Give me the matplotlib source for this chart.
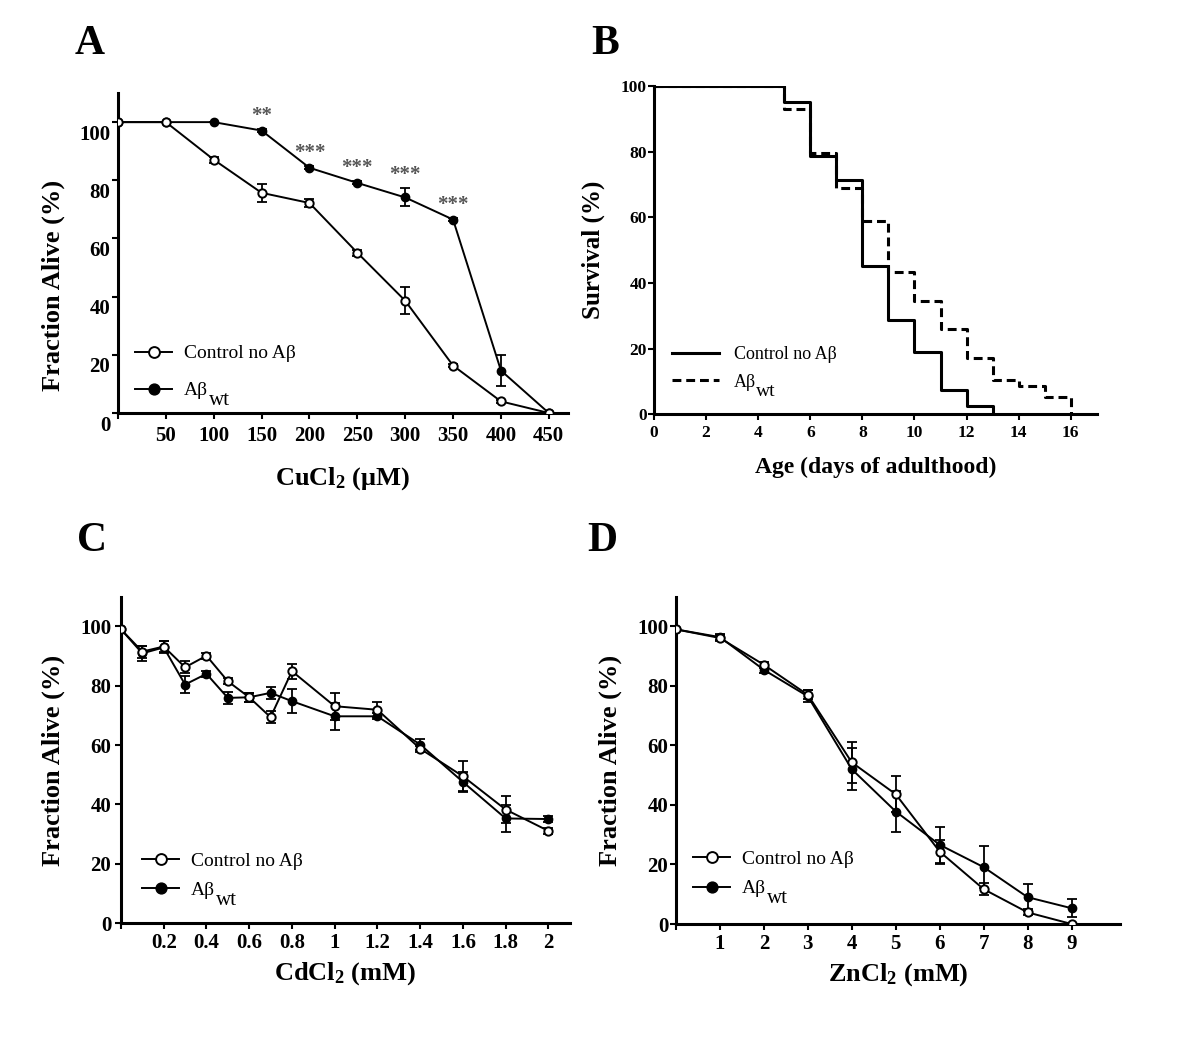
import numpy as np
import matplotlib
matplotlib.use("Agg")
import matplotlib.pyplot as plt
import matplotlib.transforms as mtransforms

plt.rcParams['font.family'] = ['Liberation Serif', 'DejaVu Serif']
plt.rcParams['mathtext.fontset'] = 'custom'
plt.rcParams['mathtext.rm'] = 'Liberation Serif'
plt.rcParams['mathtext.bf'] = 'Liberation Serif:bold'
plt.rcParams['mathtext.it'] = 'Liberation Serif:italic'

# ---- Panel A: CuCl2 ----
cu_conc = [0, 50, 100, 150, 200, 250, 300, 350, 400, 450]
cu_ctrl = [100, 100, 87.1, 75.7, 72.2, 55.1, 38.6, 16.3, 4.0, 0]
cu_ctrl_err = [0, 0, 1.0, 3.1, 1.5, 1.0, 4.6, 0.5, 0.5, 0]
cu_abwt = [100, 100, 100, 97.1, 84.3, 79.1, 74.1, 66.5, 14.6, 0]
cu_abwt_err = [0, 0, 0, 0.5, 0.5, 0.5, 3.1, 0.5, 5.4, 0]
star_conc = [150, 200, 250, 300, 350]
star_text = ['**', '***', '***', '***', '***']

# ---- Panel B: survival ----
days = [0, 5, 6, 7, 8, 9, 10, 11, 12, 13, 14, 15, 16]
surv_ctrl = [100, 95.0, 78.7, 71.4, 45.0, 28.8, 19.0, 7.5, 2.5, 0]
surv_abwt = [100, 93.0, 79.5, 69.0, 58.7, 43.2, 34.5, 25.9, 17.2, 10.3, 8.6, 5.2, 0]

# ---- Panel C: CdCl2 ----
cd_conc = [0, 0.1, 0.2, 0.3, 0.4, 0.5, 0.6, 0.7, 0.8, 1.0, 1.2, 1.4, 1.6, 1.8, 2.0]
cd_ctrl = [99, 91.5, 93.2, 86.2, 90.1, 81.5, 76.1, 69.4, 84.9, 73.1, 71.9, 58.8, 49.5, 38.3, 31.1]
cd_ctrl_err = [0, 2.0, 2.0, 2.0, 1.0, 1.0, 1.5, 2.0, 2.5, 4.5, 2.5, 1.0, 5.0, 4.5, 1.0]
cd_abwt = [99, 90.9, 92.9, 80.4, 84.0, 75.9, 76.1, 77.6, 74.8, 69.7, 69.7, 60.2, 47.6, 35.3, 35.1]
cd_abwt_err = [0, 2.5, 2.0, 3.0, 1.0, 2.0, 1.5, 2.0, 4.0, 4.5, 1.0, 2.0, 3.5, 4.5, 1.0]

# ---- Panel D: ZnCl2 ----
zn_conc = [0, 1, 2, 3, 4, 5, 6, 7, 8, 9]
zn_ctrl = [99, 96.1, 87.1, 77.0, 54.3, 43.6, 24.3, 11.7, 3.9, 0]
zn_ctrl_err = [0, 1.0, 1.0, 1.5, 7.0, 6.0, 4.0, 2.0, 1.0, 0]
zn_abwt = [99, 96.4, 85.4, 76.5, 52.0, 37.8, 26.6, 19.1, 9.0, 5.3]
zn_abwt_err = [0, 1.0, 1.0, 2.0, 7.0, 7.0, 6.0, 7.0, 4.5, 3.0]

LBL_CTRL = 'Control no A\u03b2'
LBL_AB = 'A\u03b2'
LBL_AB_SUB = 'wt'

fig = plt.figure(figsize=(12, 10.56), dpi=100)
axA = fig.add_axes([0.0983, 0.6089, 0.375, 0.303])
axB = fig.add_axes([0.545, 0.6077, 0.369, 0.311])
axC = fig.add_axes([0.1008, 0.1257, 0.374, 0.3093])
axD = fig.add_axes([0.5633, 0.125, 0.370, 0.310])


def style_axes(ax, tick_size, ypad=2, xpad=5):
    for side in ['top', 'right']:
        ax.spines[side].set_visible(False)
    for side in ['left', 'bottom']:
        ax.spines[side].set_linewidth(2.2)
    ax.tick_params(direction='out', length=4, width=1.5, labelsize=tick_size)
    ax.tick_params(axis='y', pad=ypad)
    ax.tick_params(axis='x', pad=xpad)
    for lbl in ax.get_xticklabels() + ax.get_yticklabels():
        lbl.set_fontweight('bold')


def dose_curves(ax, x, ctrl, ctrl_err, ab, ab_err, ms=6):
    ax.errorbar(x, ab, yerr=ab_err, fmt='none', ecolor='black', elinewidth=1.3,
                capsize=3.5, capthick=1.3, zorder=2)
    ax.errorbar(x, ctrl, yerr=ctrl_err, fmt='none', ecolor='black', elinewidth=1.3,
                capsize=3.5, capthick=1.3, zorder=2)
    ax.plot(x, ab, '-o', color='black', lw=1.4, ms=ms, mfc='black', mec='black',
            label=LBL_AB, zorder=3)
    ax.plot(x, ctrl, '-o', color='black', lw=1.4, ms=ms, mfc='white', mec='black',
            mew=1.4, label=LBL_CTRL, zorder=4)


def add_legend(ax, anchor, fontsize, spacing, reverse=True, **kw):
    h, l = ax.get_legend_handles_labels()
    if reverse:
        h, l = h[::-1], l[::-1]
    leg = ax.legend(h, l, loc='center left', bbox_to_anchor=anchor, frameon=False,
                    fontsize=fontsize, labelspacing=spacing, **kw)
    # large lowered subscript "wt" after A-beta, drawn after the legend
    for t in leg.get_texts():
        if t.get_text() == LBL_AB:
            ax.annotate(LBL_AB_SUB, xy=(1, 0), xycoords=t, xytext=(0.3, -4.0),
                        textcoords='offset points', fontsize=fontsize * 1.08,
                        ha='left', va='baseline', zorder=10)
    return leg


# Panel A
dose_curves(axA, cu_conc, cu_ctrl, cu_ctrl_err, cu_abwt, cu_abwt_err)
for cx, txt in zip(star_conc, star_text):
    i = cu_conc.index(cx)
    axA.text(cx, cu_abwt[i] + cu_abwt_err[i] + 4.5, txt, ha='center', va='center',
             color='#555555', fontsize=15, fontweight='bold')
axA.set_xlim(0, 470)
axA.set_ylim(0, 110)
axA.set_xticks([0, 50, 100, 150, 200, 250, 300, 350, 400, 450])
axA.set_xticklabels([''] + [str(v) for v in cu_conc[1:]])
axA.set_yticks([0, 20, 40, 60, 80, 100])
style_axes(axA, 15, ypad=1.5)
offset = mtransforms.ScaledTranslation(0, -0.10, fig.dpi_scale_trans)
for lbl in axA.get_yticklabels():
    lbl.set_transform(lbl.get_transform() + offset)
axA.set_xlabel('CuCl$_\\mathbf{2}$ (\u03bcM)', fontsize=19, fontweight='bold', labelpad=14)
axA.set_ylabel('Fraction Alive (%)', fontsize=19, fontweight='bold')
axA.yaxis.set_label_coords(-0.118, 0.40)
add_legend(axA, (0.0, 0.128), 14, 1.0, handlelength=1.9, handletextpad=0.6,
           markerscale=1.3)

# Panel B
axB.step(days[:len(surv_ctrl)], surv_ctrl, where='post', color='black', lw=2.2,
         label=LBL_CTRL)
axB.step(days, surv_abwt, where='post', color='black', lw=2.2, dashes=(2.9, 1.6),
         label=LBL_AB)
axB.set_xlim(0, 17)
axB.set_ylim(0, 100)
axB.set_xticks(np.arange(0, 17, 2))
axB.set_yticks([0, 20, 40, 60, 80, 100])
style_axes(axB, 12.5, ypad=1, xpad=4)
axB.set_xlabel('Age (days of adulthood)', fontsize=17, fontweight='bold', labelpad=11)
axB.set_ylabel('Survival (%)', fontsize=18, fontweight='bold')
axB.yaxis.set_label_coords(-0.11, 0.5)
add_legend(axB, (0.005, 0.14), 13, 0.6, reverse=False, handlelength=2.6,
           handletextpad=0.8)

# Panel C
dose_curves(axC, cd_conc, cd_ctrl, cd_ctrl_err, cd_abwt, cd_abwt_err)
axC.set_xlim(0, 2.1)
axC.set_ylim(0, 110)
cd_ticks = [0, 0.2, 0.4, 0.6, 0.8, 1.0, 1.2, 1.4, 1.6, 1.8, 2.0]
axC.set_xticks(cd_ticks)
axC.set_xticklabels([''] + ['%g' % v for v in cd_ticks[1:]])
axC.set_yticks([0, 20, 40, 60, 80, 100])
style_axes(axC, 15, ypad=3, xpad=3)
axC.set_xlabel('CdCl$_\\mathbf{2}$ (mM)', fontsize=19, fontweight='bold', labelpad=5)
axC.set_ylabel('Fraction Alive (%)', fontsize=19, fontweight='bold')
axC.yaxis.set_label_coords(-0.125, 0.5)
add_legend(axC, (0.009, 0.146), 14, 0.62, handlelength=1.9, handletextpad=0.6,
           markerscale=1.3)

# Panel D
dose_curves(axD, zn_conc, zn_ctrl, zn_ctrl_err, zn_abwt, zn_abwt_err)
axD.set_xlim(0, 10.1)
axD.set_ylim(0, 110)
axD.set_xticks(zn_conc)
axD.set_xticklabels([''] + [str(v) for v in zn_conc[1:]])
axD.set_yticks([0, 20, 40, 60, 80, 100])
style_axes(axD, 15, ypad=1.5, xpad=3)
axD.set_xlabel('ZnCl$_\\mathbf{2}$ (mM)', fontsize=19, fontweight='bold', labelpad=5)
axD.set_ylabel('Fraction Alive (%)', fontsize=19, fontweight='bold')
axD.yaxis.set_label_coords(-0.122, 0.5)
add_legend(axD, (0.0, 0.153), 14, 0.6, handlelength=1.9, handletextpad=0.6,
           markerscale=1.3)

# panel letters
for txt, x, y in [('A', 0.075, 0.958), ('B', 0.504, 0.958), ('C', 0.077, 0.488), ('D', 0.502, 0.488)]:
    fig.text(x, y, txt, fontsize=30, fontweight='bold', ha='center', va='center')

fig.savefig('out.png', dpi=100)
